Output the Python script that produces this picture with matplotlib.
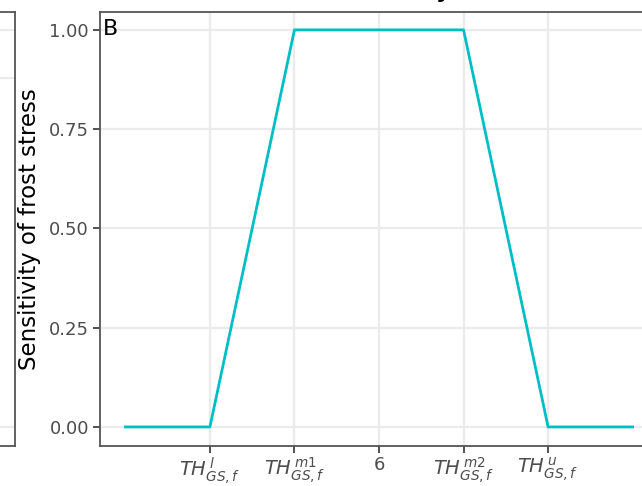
import matplotlib
matplotlib.use("Agg")
import matplotlib.pyplot as plt

# data
temp = [3, 4, 5, 7, 8, 9]
sensitivity = [0, 0, 1, 1, 0, 0]
x_ticks = [4, 5, 6, 7, 8]
x_tick_labels = [r'$TH^{\,l}_{GS,f}$', r'$TH^{\,m1}_{GS,f}$', '6',
                 r'$TH^{\,m2}_{GS,f}$', r'$TH^{\,u}_{GS,f}$']
y_ticks = [0.0, 0.25, 0.5, 0.75, 1.0]
y_tick_labels = ['0.00', '0.25', '0.50', '0.75', '1.00']
left_grid = [0.0, 0.88, 1.0]

plt.rcParams['font.family'] = 'DejaVu Sans'
plt.rcParams['mathtext.fontset'] = 'dejavusans'

W, H = 642, 486
fig = plt.figure(figsize=(W / 100, H / 100), dpi=100)

border = '#333333'
gridc = '#EBEBEB'
tickc = '#4D4D4D'

# partial left panel (cropped)
axl = fig.add_axes([-300 / W, 40 / H, 315 / W, 434 / H])
axl.set_xlim(0, 1)
axl.set_ylim(-0.048, 1.045)
axl.set_yticks(left_grid)
axl.set_xticks([])
axl.tick_params(left=False, labelleft=False)
axl.grid(axis='y', color=gridc, lw=1.6)
axl.set_axisbelow(True)
for s in axl.spines.values():
    s.set_color('#555555')
    s.set_linewidth(1.3)

# main panel B
ax = fig.add_axes([100 / W, 40 / H, 558 / W, 434 / H])
ax.plot(temp, sensitivity, color='#00BFC4', lw=2.0, zorder=3)
ax.set_xlim(2.7, 9.3)
ax.set_ylim(-0.048, 1.045)
ax.set_xticks(x_ticks)
ax.set_xticklabels(x_tick_labels)
ax.set_yticks(y_ticks)
ax.set_yticklabels(y_tick_labels)
ax.grid(True, color=gridc, lw=1.6)
ax.set_axisbelow(True)
for s in ax.spines.values():
    s.set_color('#555555')
    s.set_linewidth(1.3)
ax.tick_params(axis='both', colors=border, labelcolor=tickc, labelsize=13,
               length=5, width=1.2, pad=3)
ax.tick_params(axis='x', pad=2)
for lab in ax.get_xticklabels():
    if lab.get_text().startswith('$'):
        lab.set_fontsize(14)
ax.set_ylabel('Sensitivity of frost stress', fontsize=16.5, color='black', labelpad=6)
ax.text(0.005, 0.985, 'B', transform=ax.transAxes, ha='left', va='top',
        fontsize=16, color='black')

# cropped title fragment (figure is cropped at the top, as in the reference)
fig.text(436 / W, 1 + 2 / H, 'y', ha='left', va='baseline', fontsize=16,
         fontweight='bold', color='black')

fig.savefig('out.png', dpi=100)
